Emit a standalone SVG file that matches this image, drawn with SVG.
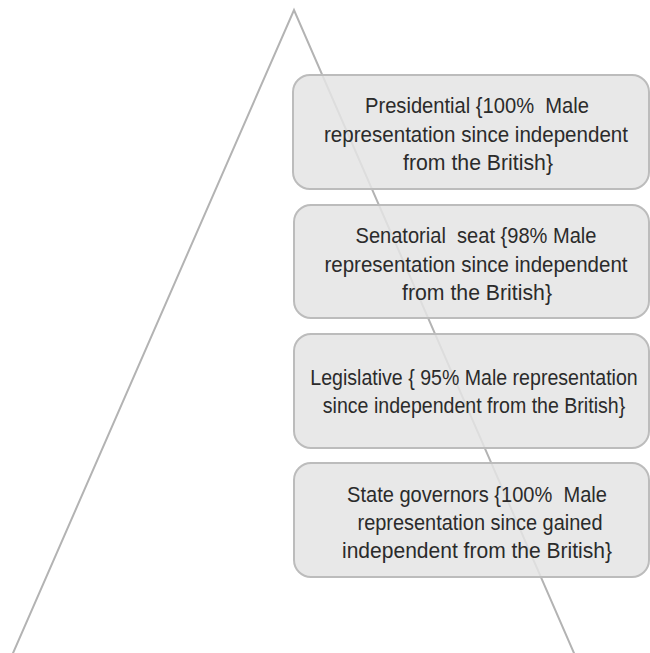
<svg xmlns="http://www.w3.org/2000/svg" width="650" height="653" viewBox="0 0 650 653">
<style>
.tri{fill:none;stroke:#b3b3b3;stroke-width:2}
.box{fill:#e4e4e4;fill-opacity:0.85;stroke:#bcbcbc;stroke-width:2}
.t{font-family:"Liberation Sans",Arial,sans-serif;font-size:22px;fill:#2b2b2b;text-anchor:middle}
</style>
<rect width="650" height="653" fill="#ffffff"/>
<g id="connectors">
<polyline class="tri" points="10,660 294,10 577,660"/>
</g>
<g id="presidential">
<rect class="box" x="293" y="75" width="356" height="114" rx="17"/>
<text class="t" xml:space="preserve"><tspan x="477" y="113" textLength="224" lengthAdjust="spacingAndGlyphs">Presidential {100%  Male</tspan><tspan x="476" y="142" textLength="304" lengthAdjust="spacingAndGlyphs">representation since independent</tspan><tspan x="478" y="170" textLength="150" lengthAdjust="spacingAndGlyphs">from the British}</tspan></text>
</g>
<g id="senatorial">
<rect class="box" x="294" y="205" width="355" height="113" rx="17"/>
<text class="t" xml:space="preserve"><tspan x="476" y="243" textLength="241" lengthAdjust="spacingAndGlyphs">Senatorial  seat {98% Male</tspan><tspan x="476" y="272" textLength="303" lengthAdjust="spacingAndGlyphs">representation since independent</tspan><tspan x="477" y="300" textLength="150" lengthAdjust="spacingAndGlyphs">from the British}</tspan></text>
</g>
<g id="legislative">
<rect class="box" x="294" y="334" width="355" height="114" rx="17"/>
<g transform="translate(474,0) scale(0.89,1)">
<text class="t" xml:space="preserve"><tspan x="0" y="385">Legislative { 95% Male representation</tspan><tspan x="0" y="413">since independent from the British}</tspan></text>
</g>
</g>
<g id="governors">
<rect class="box" x="294" y="463" width="355" height="114" rx="17"/>
<text class="t" xml:space="preserve"><tspan x="477" y="502" textLength="260" lengthAdjust="spacingAndGlyphs">State governors {100%  Male</tspan><tspan x="480" y="530" textLength="245" lengthAdjust="spacingAndGlyphs">representation since gained</tspan><tspan x="477" y="558" textLength="270" lengthAdjust="spacingAndGlyphs">independent from the British}</tspan></text>
</g>
</svg>
